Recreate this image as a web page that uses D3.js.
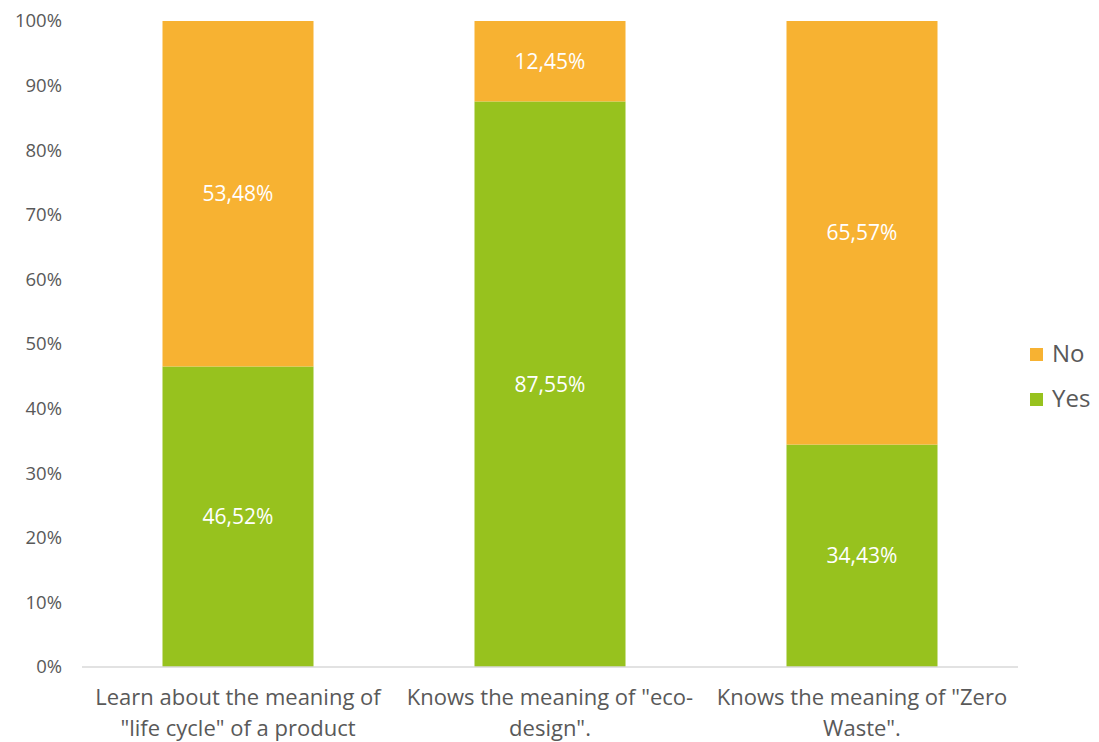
<!DOCTYPE html>
<html><head><meta charset="utf-8">
<script src="https://cdn.jsdelivr.net/npm/d3@7"></script>
<style>body{margin:0;background:#fff}svg{display:block}text{font-family:"Open Sans",sans-serif}</style>
</head><body><svg id="c" width="1099" height="742"></svg>
<script>
const categories = ["Learn about the meaning of \"life cycle\" of a product", "Knows the meaning of \"eco-design\".", "Knows the meaning of \"Zero Waste\"."];
const categoryLines = [["Learn about the meaning of", "\"life cycle\" of a product"], ["Knows the meaning of \"eco-", "design\"."], ["Knows the meaning of \"Zero", "Waste\"."]];
const yesValues = [46.52, 87.55, 34.43];
const noValues = [53.48, 12.45, 65.57];
const seriesNames = ["Yes", "No"];
const yTicks = [0, 10, 20, 30, 40, 50, 60, 70, 80, 90, 100];

const colors = {Yes: "#97C21E", No: "#F7B232"};
const svg = d3.select("#c");
const x = d3.scaleBand().domain(categories).range([82, 1018]).paddingInner(0.516).paddingOuter(0.258);
const y = d3.scaleLinear().domain([0, 100]).range([667, 21]);

const data = categories.map((c, i) => ({cat: c, Yes: yesValues[i], No: noValues[i]}));
const stack = d3.stack().keys(seriesNames)(data);

stack.forEach(layer => {
  svg.append("g").selectAll("rect").data(layer).join("rect")
    .attr("x", d => x(d.data.cat))
    .attr("width", x.bandwidth())
    .attr("y", d => y(d[1]))
    .attr("height", d => y(d[0]) - y(d[1]))
    .attr("fill", colors[layer.key]);
  svg.append("g").selectAll("text").data(layer).join("text")
    .attr("x", d => x(d.data.cat) + x.bandwidth() / 2)
    .attr("y", d => (y(d[0]) + y(d[1])) / 2)
    .attr("dy", "0.35em")
    .attr("text-anchor", "middle")
    .attr("fill", "#fff")
    .attr("font-size", 21)
    .text(d => (d[1] - d[0]).toFixed(2).replace(".", ",") + "%");
});

// baseline
svg.append("line").attr("x1", 82).attr("x2", 1018).attr("y1", y(0)).attr("y2", y(0))
  .attr("stroke", "#d9d9d9").attr("stroke-width", 1.5);

// y axis
const yAxis = d3.axisLeft(y).tickValues(yTicks).tickFormat(d => d + "%").tickSize(0).tickPadding(0);
const ya = svg.append("g").attr("transform", "translate(62,0)").call(yAxis);
ya.select(".domain").remove();
ya.selectAll("text").attr("fill", "#595959").attr("font-size", 18.5).attr("font-family", "\"Open Sans\",sans-serif");

// x labels
const xl = svg.append("g");
categories.forEach((c, i) => {
  categoryLines[i].forEach((ln, j) => {
    xl.append("text").attr("x", x(c) + x.bandwidth() / 2).attr("y", 705 + j * 31)
      .attr("text-anchor", "middle").attr("fill", "#595959").attr("font-size", 22).text(ln);
  });
});

// legend
const legendItems = ["No", "Yes"];
legendItems.forEach((k, i) => {
  const ly = 354 + i * 45;
  svg.append("rect").attr("x", 1030).attr("y", ly - 6).attr("width", 13).attr("height", 13).attr("fill", colors[k]);
  svg.append("text").attr("x", 1052).attr("y", ly).attr("dy", "0.35em").attr("fill", "#595959").attr("font-size", 24).text(k);
});
</script></body></html>
